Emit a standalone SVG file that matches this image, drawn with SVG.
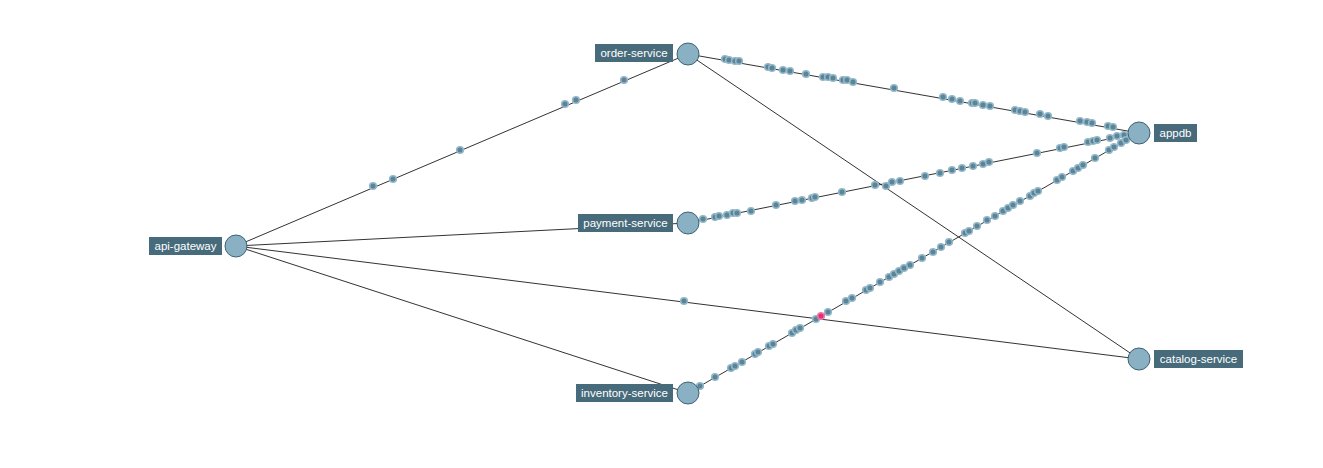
<svg xmlns="http://www.w3.org/2000/svg" xmlns:xlink="http://www.w3.org/1999/xlink" width="1323" height="468" viewBox="0 0 1323 468">
<style>
.edge{stroke:#333;stroke-width:1;fill:none}
.node{fill:#89b0c3;stroke:#3f6272;stroke-width:1}
.lbl{fill:#476b7b}
.txt{fill:#fff;font-family:"Liberation Sans",Arial,sans-serif;font-size:11.5px}
.pk{fill:#5c8497;stroke:#93b8ca;stroke-width:1.6}
.pkr{fill:#e0307a;stroke:#f07aa8;stroke-width:1.6}
</style>
<defs>
<circle id="d" r="3.3" class="pk"/>
</defs>
<rect width="1323" height="468" fill="#fff"/>
<g id="connectors">
<line class="edge" x1="236" y1="246" x2="688" y2="54"/>
<line class="edge" x1="236" y1="246" x2="688" y2="223"/>
<line class="edge" x1="236" y1="246" x2="688" y2="393"/>
<line class="edge" x1="236" y1="246" x2="1139" y2="359"/>
<line class="edge" x1="688" y1="54" x2="1139" y2="133"/>
<line class="edge" x1="688" y1="54" x2="1139" y2="359"/>
<line class="edge" x1="688" y1="223" x2="1139" y2="133"/>
<line class="edge" x1="688" y1="393" x2="1139" y2="133"/>
</g>
<g id="packets">
<use href="#d" x="373" y="186"/><use href="#d" x="393" y="179"/><use href="#d" x="460" y="150"/><use href="#d" x="565" y="104"/><use href="#d" x="576" y="100"/><use href="#d" x="624" y="80"/>
<use href="#d" x="684" y="301"/>
<use href="#d" x="725" y="59"/><use href="#d" x="729" y="60"/><use href="#d" x="735" y="61"/><use href="#d" x="739" y="61"/><use href="#d" x="768" y="67"/><use href="#d" x="772" y="68"/><use href="#d" x="783" y="70"/><use href="#d" x="790" y="71"/><use href="#d" x="806" y="74"/><use href="#d" x="823" y="77"/><use href="#d" x="828" y="77"/><use href="#d" x="833" y="78"/><use href="#d" x="843" y="80"/><use href="#d" x="847" y="80"/><use href="#d" x="853" y="82"/><use href="#d" x="894" y="88"/><use href="#d" x="943" y="97"/><use href="#d" x="952" y="99"/><use href="#d" x="960" y="101"/><use href="#d" x="972" y="103"/><use href="#d" x="975" y="103"/><use href="#d" x="983" y="105"/><use href="#d" x="990" y="106"/><use href="#d" x="1015" y="110"/><use href="#d" x="1020" y="111"/><use href="#d" x="1025" y="112"/><use href="#d" x="1040" y="114"/><use href="#d" x="1048" y="116"/><use href="#d" x="1080" y="121"/><use href="#d" x="1087" y="122"/><use href="#d" x="1092" y="123"/><use href="#d" x="1108" y="126"/><use href="#d" x="1113" y="127"/>
<use href="#d" x="703" y="219"/><use href="#d" x="715" y="217"/><use href="#d" x="719" y="216"/><use href="#d" x="727" y="215"/><use href="#d" x="733" y="213"/><use href="#d" x="737" y="213"/><use href="#d" x="751" y="211"/><use href="#d" x="776" y="205"/><use href="#d" x="795" y="201"/><use href="#d" x="802" y="200"/><use href="#d" x="812" y="198"/><use href="#d" x="815" y="197"/><use href="#d" x="842" y="192"/><use href="#d" x="875" y="185"/><use href="#d" x="886" y="186"/><use href="#d" x="892" y="182"/><use href="#d" x="900" y="181"/><use href="#d" x="925" y="176"/><use href="#d" x="940" y="173"/><use href="#d" x="952" y="170"/><use href="#d" x="962" y="168"/><use href="#d" x="973" y="166"/><use href="#d" x="983" y="164"/><use href="#d" x="989" y="162"/><use href="#d" x="1037" y="153"/><use href="#d" x="1060" y="148"/><use href="#d" x="1064" y="147"/><use href="#d" x="1088" y="142"/><use href="#d" x="1093" y="141"/><use href="#d" x="1097" y="140"/><use href="#d" x="1110" y="138"/><use href="#d" x="1117" y="136"/><use href="#d" x="1124" y="135"/>
<use href="#d" x="700" y="386"/><use href="#d" x="715" y="377"/><use href="#d" x="731" y="368"/><use href="#d" x="735" y="366"/><use href="#d" x="742" y="362"/><use href="#d" x="755" y="354"/><use href="#d" x="758" y="352"/><use href="#d" x="769" y="346"/><use href="#d" x="773" y="344"/><use href="#d" x="792" y="333"/><use href="#d" x="796" y="330"/><use href="#d" x="800" y="328"/><use href="#d" x="816" y="319"/><use href="#d" x="828" y="312"/><use href="#d" x="846" y="301"/><use href="#d" x="852" y="298"/><use href="#d" x="866" y="290"/><use href="#d" x="870" y="288"/><use href="#d" x="880" y="282"/><use href="#d" x="889" y="277"/><use href="#d" x="894" y="274"/><use href="#d" x="899" y="271"/><use href="#d" x="904" y="268"/><use href="#d" x="910" y="265"/><use href="#d" x="922" y="258"/><use href="#d" x="933" y="252"/><use href="#d" x="941" y="247"/><use href="#d" x="949" y="242"/><use href="#d" x="965" y="233"/><use href="#d" x="969" y="231"/><use href="#d" x="977" y="226"/><use href="#d" x="987" y="220"/><use href="#d" x="995" y="216"/><use href="#d" x="1003" y="211"/><use href="#d" x="1008" y="208"/><use href="#d" x="1013" y="205"/><use href="#d" x="1020" y="201"/><use href="#d" x="1030" y="196"/><use href="#d" x="1034" y="193"/><use href="#d" x="1038" y="191"/><use href="#d" x="1057" y="180"/><use href="#d" x="1062" y="177"/><use href="#d" x="1073" y="171"/><use href="#d" x="1078" y="168"/><use href="#d" x="1083" y="165"/><use href="#d" x="1095" y="158"/><use href="#d" x="1109" y="150"/><use href="#d" x="1114" y="147"/><use href="#d" x="1121" y="143"/><use href="#d" x="1126" y="140"/>
<circle class="pkr" cx="821" cy="316" r="3.3"/>
</g>
<g id="api-gateway">
<circle class="node" cx="236" cy="246" r="11"/>
<rect class="lbl" x="149" y="237" width="73" height="18"/>
<text class="txt" x="185.5" y="250" text-anchor="middle">api-gateway</text>
</g>
<g id="order-service">
<circle class="node" cx="688" cy="54" r="11"/>
<rect class="lbl" x="595" y="44" width="78" height="18"/>
<text class="txt" x="634" y="57" text-anchor="middle">order-service</text>
</g>
<g id="payment-service">
<circle class="node" cx="688" cy="223" r="11"/>
<rect class="lbl" x="578" y="214" width="95" height="18"/>
<text class="txt" x="625.5" y="227" text-anchor="middle">payment-service</text>
</g>
<g id="inventory-service">
<circle class="node" cx="688" cy="393" r="11"/>
<rect class="lbl" x="576" y="384" width="97" height="18"/>
<text class="txt" x="624.5" y="397" text-anchor="middle">inventory-service</text>
</g>
<g id="appdb">
<circle class="node" cx="1139" cy="133" r="11"/>
<rect class="lbl" x="1154" y="124" width="43" height="18"/>
<text class="txt" x="1175.5" y="137" text-anchor="middle">appdb</text>
</g>
<g id="catalog-service">
<circle class="node" cx="1139" cy="359" r="11"/>
<rect class="lbl" x="1154" y="350" width="89" height="18"/>
<text class="txt" x="1198.5" y="363" text-anchor="middle">catalog-service</text>
</g>
</svg>
